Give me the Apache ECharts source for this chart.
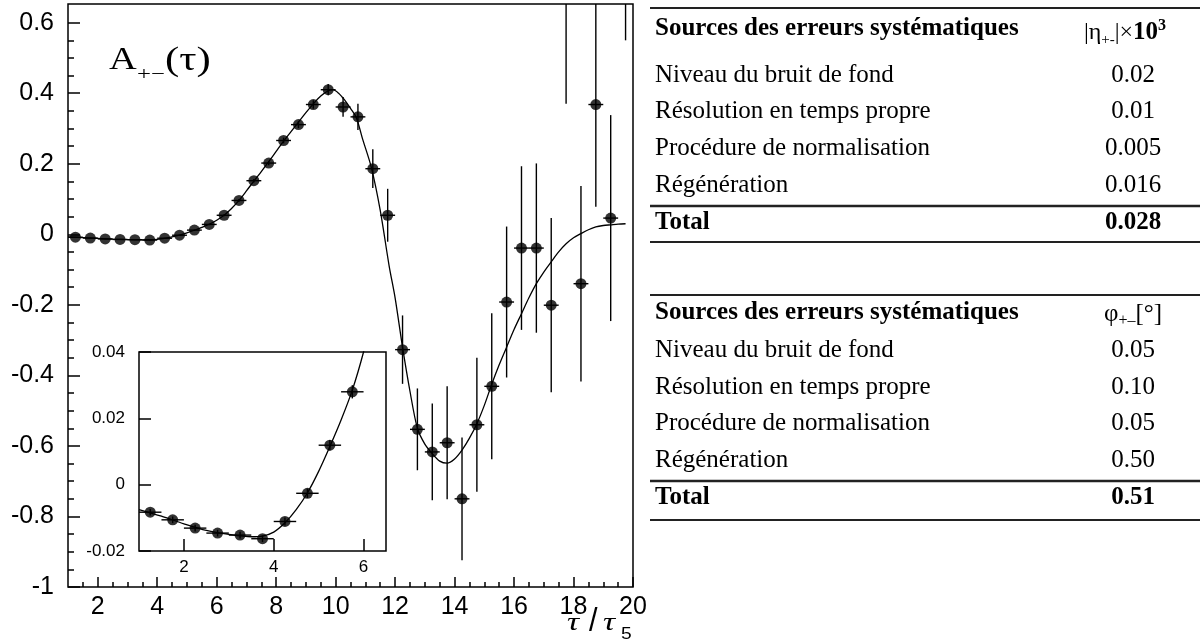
<!DOCTYPE html>
<html><head><meta charset="utf-8">
<script src="https://cdn.jsdelivr.net/npm/echarts@6/dist/echarts.min.js"></script>
<style>html,body{margin:0;padding:0;background:#fff}#c{width:1200px;height:644px}</style>
</head><body><div id="c"></div>
<script>
// ---- data ----
const tau = [1.25,1.75,2.25,2.75,3.25,3.75,4.25,4.75,5.25,5.75,6.25,6.75,7.25,7.75,8.25,8.75,9.25,9.75,10.25,10.75,
             11.25,11.75,12.25,12.75,13.25,13.75,14.25,14.75,15.25,15.75,16.25,16.75,17.25,17.75,18.25,18.75,19.25,19.75];
const asym = [-0.0083,-0.0106,-0.0131,-0.0146,-0.0152,-0.0163,-0.0111,-0.0026,0.0119,0.028,0.054,0.096,0.152,0.202,0.266,0.311,0.368,0.410,0.361,0.333,
              0.186,0.054,-0.327,-0.553,-0.617,-0.591,-0.750,-0.540,-0.431,-0.192,-0.039,-0.039,-0.201,0.66,-0.140,0.368,0.046,0.86];
const asymErr = [0.001,0.001,0.001,0.001,0.001,0.001,0.0012,0.0014,0.0016,0.002,0.003,0.004,0.005,0.006,0.008,0.010,0.012,0.016,0.028,0.037,
                 0.055,0.075,0.097,0.116,0.137,0.160,0.174,0.190,0.207,0.214,0.232,0.240,0.247,0.290,0.277,0.290,0.292,0.310];
const binHalfWidth = 0.25;
const fitTau = [1.0,1.5,2.0,2.5,3.0,3.5,3.75,4.0,4.25,4.5,4.75,5.0,5.25,5.5,5.75,6.0,6.25,6.5,6.75,7.0,7.25,7.5,7.75,8.0,8.25,8.5,8.75,9.0,9.25,9.5,9.75,9.9,
                10.1,10.3,10.5,10.7,10.9,11.2,11.5,11.8,12.0,12.25,12.5,12.75,13.0,13.25,13.5,13.75,14.0,14.25,14.5,14.75,15.0,15.25,15.5,15.75,16.0,16.25,
                16.5,16.75,17.0,17.25,17.5,17.75,18.0,18.25,18.5,18.75,19.0,19.25,19.5,19.75];
const fitAsym = [-0.0075,-0.0095,-0.0118,-0.0138,-0.0150,-0.0157,-0.0155,-0.0143,-0.0115,-0.0075,-0.0025,0.0040,0.0115,0.0195,0.0285,0.040,0.054,0.073,0.096,0.123,0.151,0.178,0.206,0.235,0.264,0.291,0.318,0.345,0.370,0.392,0.407,0.410,
                 0.400,0.381,0.357,0.330,0.272,0.190,0.068,-0.090,-0.180,-0.320,-0.445,-0.550,-0.595,-0.622,-0.643,-0.649,-0.637,-0.612,-0.578,-0.537,-0.485,-0.425,-0.370,-0.320,-0.270,-0.225,
                 -0.180,-0.140,-0.107,-0.078,-0.050,-0.027,-0.010,0.002,0.013,0.021,0.025,0.027,0.029,0.030];
const xMajorTicks = [2,4,6,8,10,12,14,16,18,20];
const yMajorTicks = [-1,-0.8,-0.6,-0.4,-0.2,0,0.2,0.4,0.6];
const insetXTicks = [2,4,6];
const insetYTicks = [-0.02,0,0.02,0.04];
const sourceLabels = ['Niveau du bruit de fond','Résolution en temps propre','Procédure de normalisation','Régénération'];
const etaErrors = ['0.02','0.01','0.005','0.016'];
const etaTotal = '0.028';
const phiErrors = ['0.05','0.10','0.05','0.50'];
const phiTotal = '0.51';
const tableHeader = 'Sources des erreurs systématiques';
const totalLabel = 'Total';

// minor tick positions (axis decoration)
const xMinorTicks = []; for (let v = 1.5; v < 20; v += 0.5) if (v % 2 !== 0) xMinorTicks.push(v);
const yMinorTicks = []; for (let i = -20; i <= 12; i++) { if (i % 4 !== 0) yMinorTicks.push(i * 0.05); }

const pts = tau.map((t, i) => [t, asym[i], asymErr[i], binHalfWidth]);
const fit = fitTau.map((t, i) => [t, fitAsym[i]]);

const MAIN = {x: [1, 20], y: [-1, 0.653]};
const INSET = {x: [1, 6.5], y: [-0.02, 0.04]};

function errRender(r) {
  return function (params, api) {
    const x = api.value(0), y = api.value(1), e = api.value(2), hw = api.value(3);
    const style = {stroke: '#000', lineWidth: 1.4};
    const ch = [];
    const ylo = Math.max(y - e, r.y[0]), yhi = Math.min(y + e, r.y[1]);
    if (ylo < yhi && x >= r.x[0] && x <= r.x[1]) {
      const a = api.coord([x, ylo]), b = api.coord([x, yhi]);
      ch.push({type: 'line', shape: {x1: a[0], y1: a[1], x2: b[0], y2: b[1]}, style});
    }
    if (y >= r.y[0] && y <= r.y[1]) {
      const xl = Math.max(x - hw, r.x[0]), xh = Math.min(x + hw, r.x[1]);
      if (xl < xh) {
        const a = api.coord([xl, y]), b = api.coord([xh, y]);
        ch.push({type: 'line', shape: {x1: a[0], y1: a[1], x2: b[0], y2: b[1]}, style});
      }
    }
    return {type: 'group', children: ch};
  };
}

const fmt = v => String(+(+v).toFixed(2));
const SANS = '"Liberation Sans", Arial, sans-serif';
const SERIF = '"Liberation Serif", "Times New Roman", serif';

function tick(len, vals, w) { return {show: true, inside: true, length: len, customValues: vals, lineStyle: {color: '#000', width: w}}; }
const noLine = {show: false, onZero: false};

const chart = echarts.init(document.getElementById('c'), null, {renderer: 'canvas'});

// tables
const g = [];
const TL = 655, TV = 1133;
function hline(y, w) { g.push({type: 'line', shape: {x1: 650, y1: y, x2: 1200, y2: y}, style: {stroke: '#222', lineWidth: w}}); }
function txt(x, y, text, opts) {
  g.push({type: 'text', x: x, y: y, style: Object.assign({text: text, fill: '#000', font: '25px ' + SERIF, align: 'left', verticalAlign: 'middle'}, opts || {})});
}
function table(y0, rowsY, values, total, head) {
  hline(y0.top, 2);
  txt(TL, y0.head, tableHeader, {font: 'bold 25px ' + SERIF});
  g.push(head);
  sourceLabels.forEach((s, i) => { txt(TL, rowsY[i], s); txt(TV, rowsY[i], values[i], {align: 'center'}); });
  hline(y0.mid, 2.5);
  txt(TL, y0.total, totalLabel, {font: 'bold 25px ' + SERIF});
  txt(TV, y0.total, total, {font: 'bold 25px ' + SERIF, align: 'center'});
  hline(y0.bottom, 2);
}
table({top: 8, head: 29, mid: 206, total: 223, bottom: 242}, [75, 111, 148, 185], etaErrors, etaTotal,
  {type: 'text', x: 1125, y: 33, style: {text: '{r||η}{s|+-}{r||×}{b|10}{p|3}', align: 'center', verticalAlign: 'middle',
    rich: {r: {font: '24px ' + SERIF, lineHeight: 30, verticalAlign: 'middle'},
           s: {font: '15px ' + SERIF, lineHeight: 30, verticalAlign: 'bottom'},
           b: {font: 'bold 25px ' + SERIF, lineHeight: 30, verticalAlign: 'middle'},
           p: {font: 'bold 16px ' + SERIF, lineHeight: 30, verticalAlign: 'top'}}}});
table({top: 295, head: 313, mid: 481, total: 498, bottom: 520}, [350, 387, 423, 460], phiErrors, phiTotal,
  {type: 'text', x: 1133, y: 314, style: {text: '{r|φ}{s|+–}{r|[°]}', align: 'center', verticalAlign: 'middle',
    rich: {r: {font: '25px ' + SERIF, lineHeight: 30, verticalAlign: 'middle'},
           s: {font: '16px ' + SERIF, lineHeight: 30, verticalAlign: 'bottom'}}}});

// plot labels
function ptxt(x, y, text, font, sx) {
  g.push({type: 'text', x: x, y: y, scaleX: sx, z: 10, style: {text: text, font: font, fill: '#000', align: 'left', verticalAlign: 'middle'}});
}
ptxt(109, 61, 'A', '32px ' + SERIF, 1.2);
ptxt(137, 75, '+−', '19px ' + SERIF, 1.3);
ptxt(165, 61, '(τ)', '33px ' + SERIF, 1.3);
ptxt(567, 623, 'τ', 'italic 26px ' + SERIF, 1.3);
ptxt(589, 622, '/', '34px ' + SANS, 0.9);
ptxt(603, 623, 'τ', 'italic 26px ' + SERIF, 1.3);
ptxt(621, 635, '5', '16px ' + SANS, 1.2);

chart.setOption({
  animation: false,
  backgroundColor: '#fff',
  grid: [
    {left: 68, top: 4, width: 565, height: 583, show: true, borderColor: '#000', borderWidth: 1.5, backgroundColor: 'transparent'},
    {left: 139, top: 352, width: 247, height: 199, show: true, borderColor: '#000', borderWidth: 1.5, backgroundColor: '#fff'}
  ],
  xAxis: [
    {gridIndex: 0, type: 'value', min: MAIN.x[0], max: MAIN.x[1], position: 'bottom', axisLine: noLine, splitLine: {show: false},
     axisTick: tick(10, xMajorTicks, 1.5), axisLabel: {customValues: xMajorTicks, fontSize: 25, fontFamily: SANS, color: '#000', margin: 8}},
    {gridIndex: 0, type: 'value', min: MAIN.x[0], max: MAIN.x[1], position: 'bottom', axisLine: noLine, splitLine: {show: false},
     axisTick: tick(5, xMinorTicks, 1.5), axisLabel: {show: false}},
    {gridIndex: 1, type: 'value', min: INSET.x[0], max: INSET.x[1], position: 'bottom', axisLine: noLine, splitLine: {show: false},
     axisTick: tick(12, insetXTicks, 1.5), axisLabel: {customValues: insetXTicks, fontSize: 17, fontFamily: SANS, color: '#000', margin: 8}}
  ],
  yAxis: [
    {gridIndex: 0, type: 'value', min: MAIN.y[0], max: MAIN.y[1], position: 'left', axisLine: noLine, splitLine: {show: false},
     axisTick: tick(12, yMajorTicks, 1.5), axisLabel: {customValues: yMajorTicks, formatter: fmt, fontSize: 25, fontFamily: SANS, color: '#000', margin: 14}},
    {gridIndex: 0, type: 'value', min: MAIN.y[0], max: MAIN.y[1], position: 'left', axisLine: noLine, splitLine: {show: false},
     axisTick: tick(6, yMinorTicks, 1.5), axisLabel: {show: false}},
    {gridIndex: 1, type: 'value', min: INSET.y[0], max: INSET.y[1], position: 'left', axisLine: noLine, splitLine: {show: false},
     axisTick: tick(12, insetYTicks, 1.5), axisLabel: {customValues: insetYTicks, formatter: fmt, fontSize: 17, fontFamily: SANS, color: '#000', margin: 14}}
  ],
  series: [
    {type: 'line', xAxisIndex: 0, yAxisIndex: 0, data: fit, showSymbol: false, smooth: 0.3, clip: true, lineStyle: {color: '#000', width: 1.3}, z: 2},
    {type: 'custom', xAxisIndex: 0, yAxisIndex: 0, data: pts, renderItem: errRender(MAIN), z: 3},
    {type: 'scatter', xAxisIndex: 0, yAxisIndex: 0, data: pts.map(p => [p[0], p[1]]), symbol: 'circle', symbolSize: 11, clip: true, itemStyle: {color: '#000'}, z: 4},
    {type: 'line', xAxisIndex: 2, yAxisIndex: 2, data: fit.filter(p => p[0] <= 6.5), showSymbol: false, smooth: 0.3, clip: true, lineStyle: {color: '#000', width: 1.3}, z: 2},
    {type: 'custom', xAxisIndex: 2, yAxisIndex: 2, data: pts, renderItem: errRender(INSET), z: 3},
    {type: 'scatter', xAxisIndex: 2, yAxisIndex: 2, data: pts.map(p => [p[0], p[1]]), symbol: 'circle', symbolSize: 11, clip: true, itemStyle: {color: '#000'}, z: 4}
  ],
  graphic: g
});
</script></body></html>
